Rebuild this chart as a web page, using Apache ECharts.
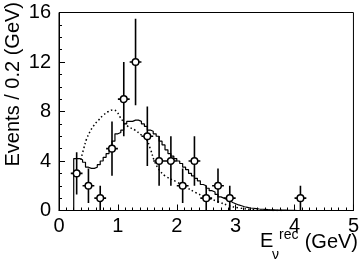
<!DOCTYPE html>
<html><head><meta charset="utf-8">
<script src="https://cdn.jsdelivr.net/npm/echarts@6/dist/echarts.min.js"></script>
<style>html,body{margin:0;padding:0;background:#fff}#c{width:362px;height:273px}</style>
</head><body><div id="c"></div>
<script>
// Data points (bin centres, counts, errors)
var dataX = [0.3, 0.5, 0.7, 0.9, 1.1, 1.3, 1.5, 1.7, 1.9, 2.1, 2.3, 2.5, 2.7, 2.9, 4.1];
var dataY = [3, 2, 1, 5, 9, 12, 6, 4, 4, 2, 4, 1, 2, 1, 1];
var dataErr = [1.7, 1.4, 1.0, 2.2, 3.0, 3.5, 2.4, 2.0, 2.0, 1.4, 2.0, 1.0, 1.4, 1.0, 1.0];
var halfBin = 0.1;

// Solid histogram: bins of 0.05 starting at 0.25
var histStart = 0.25, histWidth = 0.05;
var histValues = [4.2, 4.2, 4.1, 3.9, 3.5, 3.4, 3.4, 3.5, 3.7, 4.0, 4.3, 4.6, 5.1, 5.6, 6.2, 6.3, 6.5,
  7.0, 7.2, 7.2, 7.3, 7.3, 7.2, 7.0, 6.8, 6.5, 6.4, 6.2, 6.0, 5.6, 5.3, 4.9, 4.6, 4.4, 4.2, 4.0,
  3.8, 3.5, 3.3, 3.0, 2.8, 2.6, 2.4, 2.1, 2.0, 1.8, 1.6, 1.5, 1.3, 1.1, 1.0, 0.9, 0.8, 0.65, 0.55,
  0.45, 0.38, 0.3, 0.25, 0.2, 0.18, 0.15, 0.12, 0.1, 0.09, 0.07, 0.06, 0.05, 0.04, 0.04, 0.03, 0.03,
  0.02, 0.02, 0.02, 0];

// Dotted curve
var dotX = [0.37, 0.42, 0.47, 0.53, 0.58, 0.67, 0.75, 0.84, 0.92, 0.98, 1.03, 1.09, 1.17, 1.29, 1.40,
  1.48, 1.55, 1.62, 1.70, 1.80, 2.00, 2.15, 2.32, 2.49, 2.71, 2.88, 3.05, 3.27, 3.50, 3.80];
var dotY = [4.1, 5.0, 5.8, 6.4, 6.8, 7.3, 7.7, 8.0, 8.13, 8.0, 7.6, 7.2, 6.8, 6.5, 6.1,
  5.8, 5.0, 4.0, 3.3, 2.8, 2.3, 1.9, 1.45, 1.08, 0.7, 0.4, 0.22, 0.08, 0.02, 0];

var xTicks = [0, 1, 2, 3, 4, 5];
var yTicks = [0, 4, 8, 12, 16];

var histLine = [[histStart, 0]];
for (var i = 0; i < histValues.length; i++) {
  var a = histStart + i * histWidth, b = a + histWidth;
  histLine.push([a, histValues[i]]);
  histLine.push([b, histValues[i]]);
}
var dotLine = dotX.map(function (x, i) { return [x, dotY[i]]; });
var pts = dataX.map(function (x, i) { return [x, dataY[i], dataErr[i]]; });

var FONT = 'Liberation Sans, Arial, Helvetica, sans-serif';
var chart = echarts.init(document.getElementById('c'), null, {renderer: 'canvas'});
chart.setOption({
  animation: false,
  backgroundColor: '#fff',
  grid: {left: 59, right: 6, top: 12.5, bottom: 62.5, show: true, borderColor: '#000', borderWidth: 1, backgroundColor: 'transparent'},
  xAxis: {
    type: 'value', min: xTicks[0], max: xTicks[xTicks.length - 1], interval: 1,
    axisLine: {show: true, lineStyle: {color: '#000', width: 1}},
    axisTick: {show: true, inside: true, length: 6, lineStyle: {color: '#000'}},
    minorTick: {show: true, splitNumber: 8, length: 3, lineStyle: {color: '#000'}},
    splitLine: {show: false},
    axisLabel: {fontSize: 20, color: '#000', fontFamily: FONT, margin: 6}
  },
  yAxis: {
    type: 'value', min: yTicks[0], max: yTicks[yTicks.length - 1], interval: 4,
    axisLine: {show: true, lineStyle: {color: '#000', width: 1}},
    axisTick: {show: true, inside: true, length: 6, lineStyle: {color: '#000'}},
    minorTick: {show: true, splitNumber: 4, length: 3, lineStyle: {color: '#000'}},
    splitLine: {show: false},
    axisLabel: {fontSize: 20, color: '#000', fontFamily: FONT, margin: 8}
  },
  graphic: [
    {type: 'text', x: 13, y: 2, rotation: Math.PI / 2,
      style: {text: 'Events / 0.2 (GeV)', font: '20px ' + FONT, fill: '#000', textAlign: 'right', textVerticalAlign: 'middle'}},
    {type: 'text', x: 260, y: 251, style: {text: 'E', font: '20px ' + FONT, fill: '#000', textAlign: 'left', textVerticalAlign: 'bottom'}},
    {type: 'text', x: 272, y: 262, style: {text: 'ν', font: '14px ' + FONT, fill: '#000', textAlign: 'left', textVerticalAlign: 'bottom'}},
    {type: 'text', x: 279, y: 242, style: {text: 'rec', font: '14px ' + FONT, fill: '#000', textAlign: 'left', textVerticalAlign: 'bottom'}},
    {type: 'text', x: 358, y: 252, style: {text: '(GeV)', font: '20px ' + FONT, fill: '#000', textAlign: 'right', textVerticalAlign: 'bottom'}}
  ],
  series: [
    {type: 'line', data: histLine, showSymbol: false, symbol: 'none', lineStyle: {color: '#000', width: 1.2}, z: 2},
    {type: 'line', data: dotLine, showSymbol: false, symbol: 'none', smooth: 0.4, lineStyle: {color: '#000', width: 1.5, type: [1.5, 2.5]}, z: 2},
    {type: 'custom', data: pts, z: 5, clip: true,
      renderItem: function (params, api) {
        var x = api.value(0), y = api.value(1), e = api.value(2);
        var c = api.coord([x, y]);
        var t = api.coord([x, y + e]);
        var b = api.coord([x, Math.max(y - e, 0)]);
        var l = api.coord([x - halfBin, y]);
        var r = api.coord([x + halfBin, y]);
        return {type: 'group', children: [
          {type: 'line', shape: {x1: c[0], y1: t[1], x2: c[0], y2: b[1]}, style: {stroke: '#000', lineWidth: 1.6}},
          {type: 'line', shape: {x1: l[0], y1: c[1], x2: r[0], y2: c[1]}, style: {stroke: '#000', lineWidth: 1.6}},
          {type: 'circle', shape: {cx: c[0], cy: c[1], r: 3.3}, style: {fill: '#fff', stroke: '#000', lineWidth: 1.5}}
        ]};
      }
    }
  ]
});
</script></body></html>
